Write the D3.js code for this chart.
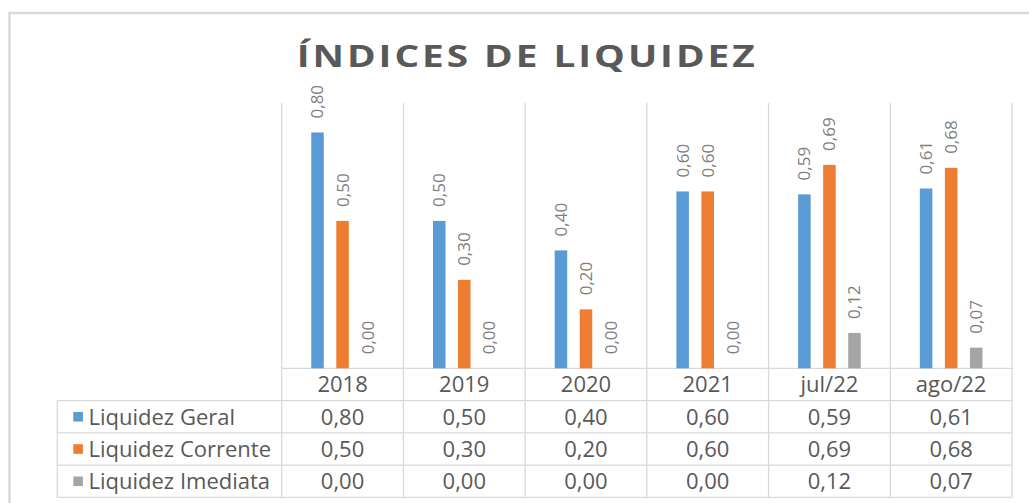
<html>
<head>
<style>
    body { margin: 0; background: #fff; font-family: "Open Sans", Arial, sans-serif; }
    svg { display: block; }
</style>
<script src="https://cdn.jsdelivr.net/npm/d3@7"></script>
</head>
<body>
<svg id="chart"></svg>
<script>
// chart data
let categories = ["2018", "2019", "2020", "2021", "jul/22", "ago/22"];
let seriesNames = ["Liquidez Geral", "Liquidez Corrente", "Liquidez Imediata"];
let liquidezGeral = [0.80, 0.50, 0.40, 0.60, 0.59, 0.61];
let liquidezCorrente = [0.50, 0.30, 0.20, 0.60, 0.69, 0.68];
let liquidezImediata = [0.00, 0.00, 0.00, 0.00, 0.12, 0.07];
let seriesColors = ["#5b9bd5", "#ed7d31", "#a5a5a5"];

let series = [liquidezGeral, liquidezCorrente, liquidezImediata].map((values, i) => ({
    name: seriesNames[i], color: seriesColors[i], values: values
}));

let width = 1029, height = 503;
let plot = { left: 281.7, right: 1012, top: 103, bottom: 368.3 };
let tableLeft = 57.3, tableBottom = 497.3;

let svg = d3.select("#chart").attr("width", width).attr("height", height);

// decimal comma like the original
let fmt = d3.formatLocale({ decimal: ",", thousands: ".", grouping: [3], currency: ["R$", ""] }).format(".2f");

// outer frame
svg.append("rect")
    .attr("x", 9.5).attr("y", 13)
    .attr("width", 1060).attr("height", 520)
    .attr("fill", "none").attr("stroke", "#d9d9d9").attr("stroke-width", 2.5);

// title (glyphs in the original are wide, so stretch horizontally)
let stretch = 1.25;
svg.append("text")
    .attr("transform", `translate(296.7,67) scale(${stretch},1)`)
    .attr("textLength", 458 / stretch).attr("lengthAdjust", "spacing")
    .attr("font-size", 31).attr("font-weight", "bold")
    .attr("fill", "#595959")
    .text("ÍNDICES DE LIQUIDEZ");

// scales
let x0 = d3.scaleBand().domain(categories).range([plot.left, plot.right]);
let x1 = d3.scaleBand().domain(seriesNames).range([0, x0.bandwidth()])
    .paddingInner(0.5).paddingOuter(1.18);
let y = d3.scaleLinear().domain([0, 0.9]).range([plot.bottom, plot.top]);

let rows = d3.scaleBand().domain(["header"].concat(seriesNames)).range([plot.bottom, tableBottom]);

let grid = "#d9d9d9";

// vertical separators (category gridlines + table columns)
let sepX = categories.map(c => x0(c)).concat([plot.right]);
svg.append("g").selectAll("line").data(sepX).enter().append("line")
    .attr("x1", d => d).attr("x2", d => d)
    .attr("y1", plot.top).attr("y2", tableBottom)
    .attr("stroke", grid).attr("stroke-width", 1.3);

// table horizontal lines
svg.append("line")
    .attr("x1", plot.left).attr("x2", plot.right)
    .attr("y1", plot.bottom).attr("y2", plot.bottom)
    .attr("stroke", grid).attr("stroke-width", 1.3);
let rowLines = seriesNames.map(s => rows(s)).concat([tableBottom]);
svg.append("g").selectAll("line").data(rowLines).enter().append("line")
    .attr("x1", tableLeft).attr("x2", plot.right)
    .attr("y1", d => d).attr("y2", d => d)
    .attr("stroke", grid).attr("stroke-width", 1.3);
svg.append("line")
    .attr("x1", tableLeft).attr("x2", tableLeft)
    .attr("y1", rows(seriesNames[0])).attr("y2", tableBottom)
    .attr("stroke", grid).attr("stroke-width", 1.3);

// bars
let groups = svg.append("g").selectAll("g").data(series).enter().append("g");
groups.selectAll("rect")
    .data(s => s.values.map((v, i) => ({ name: s.name, color: s.color, cat: categories[i], value: v })))
    .enter().append("rect")
    .attr("x", d => x0(d.cat) + x1(d.name))
    .attr("y", d => y(d.value))
    .attr("width", x1.bandwidth())
    .attr("height", d => y(0) - y(d.value))
    .attr("fill", d => d.color);

// rotated data labels
groups.selectAll("text")
    .data(s => s.values.map((v, i) => ({ name: s.name, cat: categories[i], value: v })))
    .enter().append("text")
    .attr("transform", d => {
        let cx = x0(d.cat) + x1(d.name) + x1.bandwidth() / 2;
        return `translate(${cx},${y(d.value) - 14}) rotate(-90)`;
    })
    .attr("dy", "0.35em")
    .attr("font-size", 17)
    .attr("fill", "#7f7f7f")
    .text(d => fmt(d.value));

// table header
let half = rows.bandwidth() / 2;
svg.append("g").selectAll("text").data(categories).enter().append("text")
    .attr("x", d => x0(d) + x0.bandwidth() / 2)
    .attr("y", rows("header") + half)
    .attr("dy", "0.36em")
    .attr("text-anchor", "middle")
    .attr("font-size", 22).attr("fill", "#595959")
    .text(d => d);

// table rows
let rowG = svg.append("g").selectAll("g").data(series).enter().append("g")
    .attr("transform", d => `translate(0,${rows(d.name) + half})`);
rowG.append("rect")
    .attr("x", 73.3).attr("y", -4.7)
    .attr("width", 9.6).attr("height", 9.6)
    .attr("fill", d => d.color);
rowG.append("text")
    .attr("x", 88.5).attr("dy", "0.36em")
    .attr("font-size", 22).attr("fill", "#595959")
    .text(d => d.name);
rowG.selectAll(".cell")
    .data(d => d.values.map((v, i) => ({ cat: categories[i], value: v })))
    .enter().append("text")
    .attr("class", "cell")
    .attr("x", d => x0(d.cat) + x0.bandwidth() / 2)
    .attr("dy", "0.36em")
    .attr("text-anchor", "middle")
    .attr("font-size", 22).attr("fill", "#595959")
    .text(d => fmt(d.value));
</script>
</body>
</html>
